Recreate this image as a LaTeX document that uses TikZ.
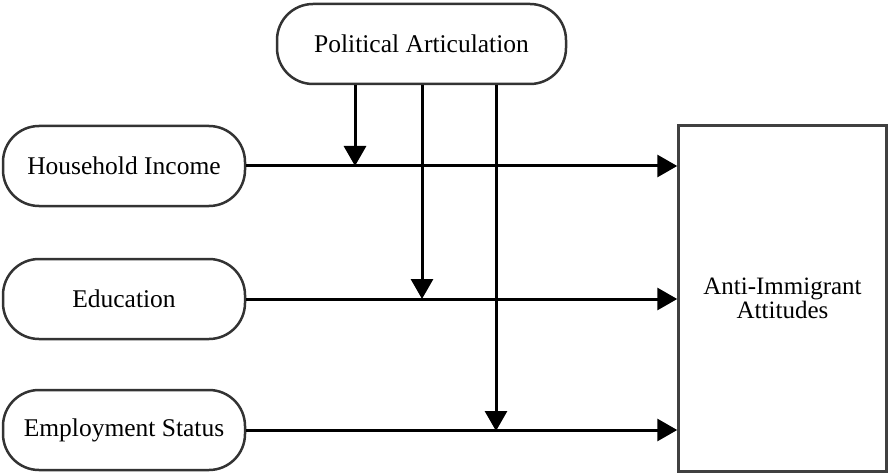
\documentclass[tikz,border=0pt]{standalone}
\usepackage{fontspec}
\setmainfont{Liberation Serif}
\usetikzlibrary{arrows.meta}
\begin{document}
\begin{tikzpicture}[x=1pt,y=-1pt,
  var/.style={draw=black!80,line width=2.5pt,rounded corners=36pt,fill=white,
    minimum height=80pt,inner sep=0pt,font=\fontsize{25.5}{27}\selectfont},
  outbox/.style={draw=black!75,line width=2.5pt,fill=white,inner sep=0pt,
    align=center,font=\fontsize{25}{24}\selectfont},
  conn/.style={line width=3pt,-{Triangle[length=20pt,width=22pt]}}]
\useasboundingbox (0,0) rectangle (888,473);
\node[var,minimum width=289pt] (pa) at (421.5,44) {Political Articulation};
\node[var,minimum width=242pt] (hi) at (124,166) {Household Income};
\node[var,minimum width=242pt] (ed) at (124,299) {Education};
\node[var,minimum width=242pt] (es) at (124,430) {Employment Status};
\node[outbox,minimum width=208pt,minimum height=346pt] (out) at (782.5,298.5) {Anti-Immigrant\\Attitudes};
\draw[conn] (hi.east) -- (hi.east -| out.west);
\draw[conn] (ed.east) -- (ed.east -| out.west);
\draw[conn] (es.east) -- (es.east -| out.west);
\coordinate (m1) at (355,166);
\coordinate (m2) at (422,299);
\coordinate (m3) at (496,431);
\draw[conn] (pa.south -| m1) -- (m1);
\draw[conn] (pa.south -| m2) -- (m2);
\draw[conn] (pa.south -| m3) -- (m3);
\end{tikzpicture}
\end{document}
